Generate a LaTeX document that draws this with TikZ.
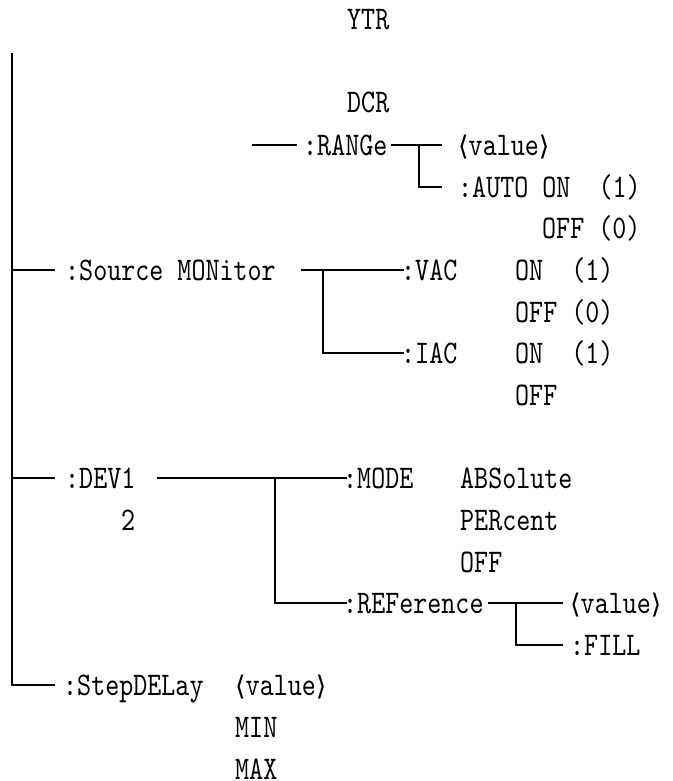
\documentclass[tikz,border=0pt]{standalone}
\usepackage{fontspec}
\newfontfamily\termfont{lmmono10-regular.otf}[FakeStretch=0.81]
\newfontfamily\brkfont{DejaVu Sans}
\usetikzlibrary{positioning}
\tikzset{
  lbl/.style={anchor=west, inner sep=0pt, text height=20pt, text depth=0pt,
    font=\termfont\fontsize{33}{33}\selectfont},
  wire/.style={line width=1.4pt},
  nextrow/.style={below right=21.6pt and 0pt of #1.south west}
}
\newcommand{\val}{{\brkfont\fontsize{27}{27}\selectfont ⟨}value{\brkfont\fontsize{27}{27}\selectfont ⟩}}

\begin{document}
\begin{tikzpicture}[x=1pt, y=-1pt]
  \useasboundingbox (0,0) rectangle (672,781);
  % top entries
  \node[lbl] (ytr) at (347,20) {YTR};
  \node[lbl] (dcr) at (347,103) {DCR};
  \node[lbl] (range) at (303,145) {:RANGe};
  \node[lbl] (rngval) at (458,145) {\val};
  \node[lbl] (auto) at (458,187) {:AUTO~ON~~(1)};
  \node[lbl] (autooff) at (542,228) {OFF~(0)};
  % source monitor
  \node[lbl] (srcmon) at (65,270) {:Source~MONitor};
  \node[lbl] (vac) at (401,270) {:VAC};
  \node[lbl] (vacon) at (515,270) {ON~~(1)};
  \node[lbl, nextrow=vacon] (vacoff) {OFF~(0)};
  \node[lbl] (iac) at (401,353) {:IAC};
  \node[lbl] (iacon) at (515,353) {ON~~(1)};
  \node[lbl, nextrow=iacon] (iacoff) {OFF};
  % deviation
  \node[lbl] (dev) at (65,478) {:DEV1};
  \node[lbl] (devtwo) at (121,520) {2};
  \node[lbl] (mode) at (343,478) {:MODE};
  \node[lbl] (abs) at (460,478) {ABSolute};
  \node[lbl, nextrow=abs] (pct) {PERcent};
  \node[lbl, nextrow=pct] (modeoff) {OFF};
  \node[lbl] (ref) at (343,603) {:REFerence};
  \node[lbl] (refval) at (570,603) {\val};
  \node[lbl, nextrow=refval] (fill) {:FILL};
  % step delay
  \node[lbl] (stepdly) at (63,685) {:StepDELay};
  \node[lbl] (stepval) at (235,685) {\val};
  \node[lbl, nextrow=stepval] (stepmin) {MIN};
  \node[lbl, nextrow=stepmin] (stepmax) {MAX};

  % trunk and branches
  \coordinate (trunktop) at (12,53);
  \draw[wire] (trunktop) |- ([xshift=-8pt]stepdly.west);
  \draw[wire] (trunktop |- srcmon.west) -- ([xshift=-10pt]srcmon.west);
  \draw[wire] (trunktop |- dev.west) -- ([xshift=-10pt]dev.west);
  \draw[wire] ([xshift=-51pt]range.west) -- ([xshift=-6pt]range.west);

  \coordinate (rngfork) at (419,145);
  \draw[wire] ([xshift=3pt]range.east) -- ([xshift=-16pt]rngval.west);
  \draw[wire] (rngfork) |- ([xshift=-16pt]auto.west);

  \coordinate (srcfork) at (323,270);
  \draw[wire] ([xshift=25pt]srcmon.east) -- ([xshift=3pt]vac.west);
  \draw[wire] (srcfork) |- ([xshift=3pt]iac.west);

  \coordinate (devfork) at (275,478);
  \draw[wire] ([xshift=21pt]dev.east) -- ([xshift=4pt]mode.west);
  \draw[wire] (devfork) |- ([xshift=4pt]ref.west);

  \coordinate (reffork) at (516,603);
  \draw[wire] ([xshift=4pt]ref.east) -- ([xshift=-7pt]refval.west);
  \draw[wire] (reffork) |- ([xshift=-7pt]fill.west);
\end{tikzpicture}
\end{document}
